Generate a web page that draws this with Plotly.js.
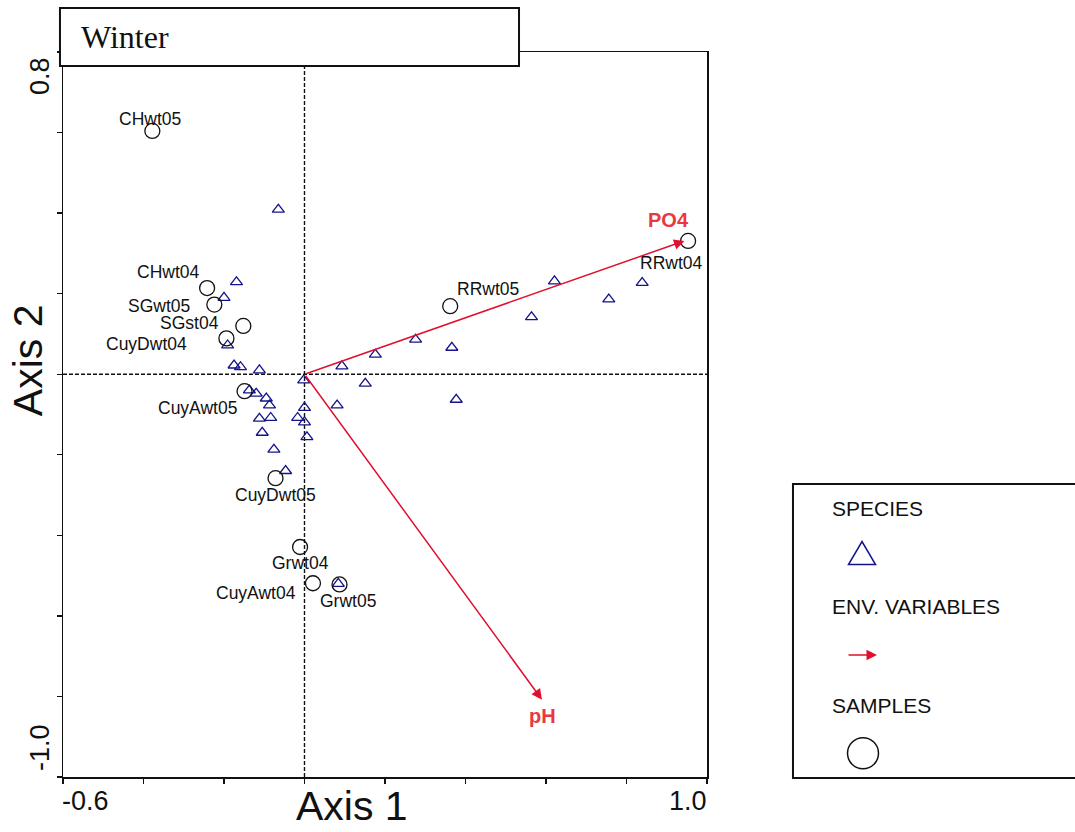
<!DOCTYPE html>
<html><head><meta charset="utf-8">
<script src="https://cdn.plot.ly/plotly-3.0.1.min.js"></script>
<style>html,body{margin:0;padding:0;background:#fff;} #chart{width:1075px;height:832px;}</style>
</head><body><div id="chart"></div>
<script>
// ---- data ----
const speciesX = [-0.065,-0.169,-0.200,-0.191,-0.175,-0.159,-0.112,-0.002,-0.137,-0.120,-0.095,-0.087,0.000,0.081,-0.112,-0.084,-0.017,0.000,-0.105,0.006,-0.076,-0.047,0.084,0.093,0.176,0.276,0.366,0.151,0.377,0.564,0.621,0.756,0.839];
const speciesY = [0.409,0.229,0.190,0.072,0.022,0.018,0.010,-0.015,-0.040,-0.048,-0.060,-0.077,-0.083,-0.077,-0.110,-0.108,-0.108,-0.119,-0.145,-0.156,-0.187,-0.240,-0.520,0.020,0.049,0.086,0.066,-0.023,-0.063,0.142,0.231,0.186,0.227];
const sampleNames = ['CHwt05','CHwt04','SGwt05','SGst04','CuyDwt04','CuyAwt05','CuyDwt05','Grwt04','CuyAwt04','Grwt05','RRwt05','RRwt04'];
const sampleX = [-0.378,-0.242,-0.224,-0.152,-0.194,-0.149,-0.072,-0.011,0.021,0.087,0.362,0.953];
const sampleY = [0.604,0.214,0.173,0.120,0.089,-0.042,-0.258,-0.429,-0.519,-0.522,0.169,0.331];
const envNames = ['PO4','pH'];
const envX = [0.944, 0.590];
const envY = [0.331, -0.808];
const xTickLabels = ['-0.6','1.0'];
const yTickLabels = ['0.8','-1.0'];
const xRange = [-0.6, 1.0];
const yRange = [-1.0, 0.8];
const panelTitle = 'Winter';
const legendItems = ['SPECIES','ENV. VARIABLES','SAMPLES'];

// ---- label placement (pixel offsets, layout only) ----
const sampleLabelShift = {
  CHwt05:[-2,12], CHwt04:[-39,16], SGwt05:[-55,-1], SGst04:[-54,3], CuyDwt04:[-80,-6],
  CuyAwt05:[-47,-17], CuyDwt05:[0,-17], Grwt04:[0,-16], CuyAwt04:[-57,-10], Grwt05:[8,-17],
  RRwt05:[38,17], RRwt04:[-17,-22]
};
const envLabelShift = {PO4:[-16,21], pH:[1,-16]};

const NAVY = '#14148a', RED = '#e0102e', REDTXT = '#e8393f';
const sans = '"Liberation Sans",Arial,sans-serif';

const traces = [
  {type:'scatter', mode:'markers', x:speciesX, y:speciesY, hoverinfo:'skip',
   marker:{symbol:'triangle-up-open', size:10.5, color:NAVY, line:{color:NAVY, width:1.3}}},
  {type:'scatter', mode:'markers', x:sampleX, y:sampleY, hoverinfo:'skip',
   marker:{symbol:'circle-open', size:15, color:'#111', line:{color:'#111', width:1.3}}}
];

const ann = [];
sampleNames.forEach((n,i)=>{
  const s = sampleLabelShift[n] || [0,0];
  ann.push({x:sampleX[i], y:sampleY[i], xref:'x', yref:'y', text:n, showarrow:false,
    xanchor:'center', yanchor:'middle', xshift:s[0], yshift:s[1],
    font:{family:sans, size:17.5, color:'#111'}});
});
envNames.forEach((n,i)=>{
  ann.push({x:envX[i], y:envY[i], xref:'x', yref:'y', ax:0, ay:0, axref:'x', ayref:'y',
    text:'', showarrow:true, arrowhead:2, arrowsize:1.4, arrowwidth:1.5, arrowcolor:RED});
  const s = envLabelShift[n];
  ann.push({x:envX[i], y:envY[i], xref:'x', yref:'y', text:'<b>'+n+'</b>', showarrow:false,
    xanchor:'center', yanchor:'middle', xshift:s[0], yshift:s[1],
    font:{family:sans, size:20, color:REDTXT}});
});
// axis end labels
const tickFont = {family:sans, size:27, color:'#111'};
ann.push({x:xRange[0], y:0, xref:'x', yref:'paper', text:xTickLabels[0], showarrow:false,
  xanchor:'left', yanchor:'middle', yshift:-24, xshift:-3, font:tickFont});
ann.push({x:xRange[1], y:0, xref:'x', yref:'paper', text:xTickLabels[1], showarrow:false,
  xanchor:'right', yanchor:'middle', yshift:-24, xshift:2, font:tickFont});
ann.push({x:0, y:yRange[1], xref:'paper', yref:'y', text:yTickLabels[0], showarrow:false, textangle:-90,
  xanchor:'center', yanchor:'middle', xshift:-23, yshift:-24, font:tickFont});
ann.push({x:0, y:yRange[0], xref:'paper', yref:'y', text:yTickLabels[1], showarrow:false, textangle:-90,
  xanchor:'center', yanchor:'middle', xshift:-23, yshift:29, font:tickFont});
// axis titles
ann.push({x:0.449, y:0, xref:'paper', yref:'paper', text:'Axis 1', showarrow:false,
  xanchor:'center', yanchor:'middle', yshift:-29, font:{family:sans, size:41, color:'#111'}});
ann.push({x:0, y:0.575, xref:'paper', yref:'paper', text:'Axis 2', showarrow:false, textangle:-90,
  xanchor:'center', yanchor:'middle', xshift:-35, font:{family:sans, size:41, color:'#111'}});
// panel title
ann.push({x:0.025, y:1.0207, xref:'paper', yref:'paper', text:panelTitle, showarrow:false,
  xanchor:'left', yanchor:'middle', font:{family:'"Liberation Serif","Times New Roman",serif', size:32, color:'#111'}});
// legend
const lgY = [0.3697, 0.2346, 0.0993];
legendItems.forEach((t,i)=>{
  ann.push({x:1.1905, y:lgY[i], xref:'paper', yref:'paper', text:t, showarrow:false,
    xanchor:'left', yanchor:'middle', font:{family:sans, size:21, color:'#111'}});
});
ann.push({x:1.2640, y:0.1683, xref:'paper', yref:'paper', ax:-30, ay:0, axref:'pixel', ayref:'pixel',
  text:'', showarrow:true, arrowhead:2, arrowsize:1.4, arrowwidth:1.5, arrowcolor:RED});

const shapes = [
  {type:'line', xref:'x', yref:'paper', x0:0, x1:0, y0:0, y1:1, layer:'below',
   line:{color:'#111', width:1.4, dash:'4px,2px'}},
  {type:'line', xref:'paper', yref:'y', x0:0, x1:1, y0:0, y1:0, layer:'below',
   line:{color:'#111', width:1.4, dash:'4px,2px'}},
  {type:'rect', xref:'paper', yref:'paper', x0:-0.0047, x1:0.7081, y0:0.9807, y1:1.0607,
   line:{color:'#111', width:2}, fillcolor:'#fff', layer:'above'},
  {type:'rect', xref:'paper', yref:'paper', x0:1.1335, x1:1.60, y0:-0.0014, y1:0.4041,
   line:{color:'#111', width:2}, fillcolor:'rgba(0,0,0,0)', layer:'above'},
  {type:'path', xref:'paper', yref:'paper', path:'M 1.2197 0.2931 L 1.2617 0.2931 L 1.2407 0.3248 Z',
   line:{color:NAVY, width:1.5}, fillcolor:'rgba(0,0,0,0)'},
  {type:'circle', xref:'paper', yref:'paper', x0:1.2182, x1:1.2663, y0:0.0113, y1:0.0541,
   line:{color:'#111', width:1.5}, fillcolor:'rgba(0,0,0,0)'}
];

const axisBase = {showgrid:false, zeroline:false, showline:true, mirror:true, linecolor:'#111', linewidth:1.5,
  ticks:'outside', ticklen:5, tickwidth:1.3, tickcolor:'#111', showticklabels:false, dtick:0.2, fixedrange:true};

const layout = {
  width:1075, height:832, margin:{l:63, r:368, t:52, b:55},
  paper_bgcolor:'#fff', plot_bgcolor:'#fff', showlegend:false,
  xaxis:Object.assign({}, axisBase, {range:xRange, tick0:-0.6}),
  yaxis:Object.assign({}, axisBase, {range:yRange, tick0:-1.0}),
  annotations:ann, shapes:shapes
};
Plotly.newPlot('chart', traces, layout, {staticPlot:true, displayModeBar:false});
</script></body></html>
